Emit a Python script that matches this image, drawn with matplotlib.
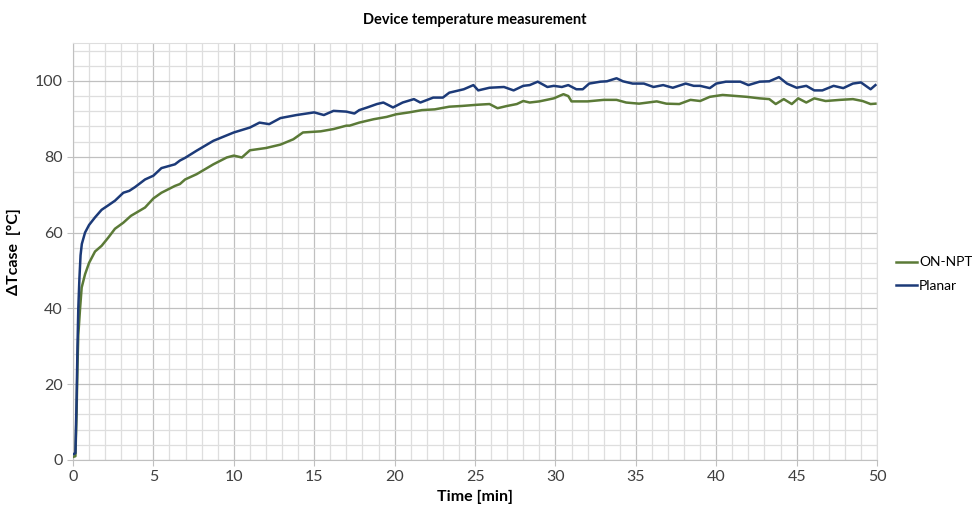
import matplotlib.pyplot as plt
from matplotlib.ticker import MultipleLocator

plt.rcParams['font.family'] = ['Lato', 'DejaVu Sans']

# === Data ===
planar_t = [0, 0.15, 0.22, 0.28, 0.33, 0.40, 0.47, 0.55, 0.75, 1.0, 1.37, 1.78,
            2.2, 2.61, 3.13, 3.5, 3.86, 4.48, 5.0, 5.5, 6.34, 6.65, 6.97,
            7.69, 8.73, 10.0, 11.0, 11.6, 12.2, 12.9, 13.9, 15.0, 15.6, 16.2,
            17.0, 17.5, 17.8, 18.3, 18.9, 19.3, 19.9, 20.5, 21.2, 21.6, 22.4,
            23.0, 23.4, 24.3, 24.9, 25.2, 25.9, 26.8, 27.4, 28.0, 28.4, 28.9,
            29.5, 29.9, 30.4, 30.8, 31.3, 31.7, 32.1, 32.8, 33.2, 33.8, 34.2,
            34.8, 35.5, 36.1, 36.7, 37.3, 38.1, 38.6, 39.0, 39.6, 40.0, 40.6,
            41.5, 42.0, 42.7, 43.3, 43.9, 44.4, 45.0, 45.6, 46.1, 46.6, 47.3,
            47.9, 48.5, 49.0, 49.6, 49.9]
planar_dt = [1.5, 1.8, 15, 30, 40, 48, 54, 57, 60, 62, 64, 66,
             67.2, 68.4, 70.5, 71.0, 72, 74, 75, 77, 78, 79, 79.7,
             81.6, 84.2, 86.4, 87.7, 89, 88.6, 90.2, 91, 91.7, 91, 92.1,
             91.9, 91.4, 92.3, 93, 93.9, 94.3, 93, 94.3, 95.2, 94.3, 95.6,
             95.6, 96.9, 97.8, 98.9, 97.5, 98.2, 98.4, 97.5, 98.7, 98.9, 99.8,
             98.4, 98.7, 98.4, 98.9, 97.8, 97.8, 99.3, 99.8, 99.9, 100.7, 99.9,
             99.3, 99.3, 98.4, 98.9, 98.2, 99.3, 98.7, 98.7, 98.1, 99.3, 99.8,
             99.8, 98.9, 99.8, 99.9, 101, 99.3, 98.2, 98.7, 97.5, 97.5, 98.7,
             98.1, 99.3, 99.6, 97.8, 98.9]

onnpt_t = [0, 0.15, 0.22, 0.28, 0.33, 0.44, 0.54, 0.75, 1.0, 1.37, 1.78, 2.2,
           2.61, 3.13, 3.6, 4.48, 5.0, 5.5, 6.34, 6.65, 6.97, 7.69, 8.73,
           9.56, 10.0, 10.5, 11.0, 12.0, 12.9, 13.7, 14.3, 15.4, 16.2, 17.0,
           17.2, 17.8, 18.7, 19.5, 20.1, 20.9, 21.7, 22.5, 23.4, 24.2, 25.1,
           25.9, 26.4, 27.0, 27.6, 28.0, 28.4, 29.0, 29.9, 30.5, 30.8, 31.0,
           32.0, 33.0, 33.8, 34.4, 35.2, 36.3, 36.9, 37.7, 38.4, 39.0, 39.6,
           40.4, 41.0, 41.9, 42.7, 43.3, 43.7, 44.2, 44.7, 45.1, 45.6, 46.1,
           46.8, 47.7, 48.5, 49.1, 49.6, 49.9]
onnpt_dt = [0.8, 1.0, 12, 25, 33, 40, 45.5, 49, 52, 55, 56.5, 58.7,
            61, 62.6, 64.4, 66.6, 69, 70.5, 72.3, 72.8, 74, 75.4, 78,
            79.8, 80.3, 79.8, 81.7, 82.3, 83.2, 84.6, 86.4, 86.7, 87.3, 88.2,
            88.2, 89, 89.9, 90.5, 91.2, 91.7, 92.3, 92.5, 93.2, 93.4, 93.7,
            93.9, 92.8, 93.4, 93.9, 94.7, 94.3, 94.6, 95.4, 96.5, 96.0, 94.6,
            94.6, 95.0, 95.0, 94.3, 94.0, 94.6, 94.0, 93.9, 95.0, 94.7, 95.8,
            96.3, 96.1, 95.8, 95.4, 95.2, 93.9, 95.2, 93.9, 95.4, 94.3, 95.4,
            94.7, 95.0, 95.2, 94.7, 93.9, 94.0]

GREEN = "#5b7a37"
BLUE = "#1c3a78"

# === Chart ===
fig = plt.figure(figsize=(9.72, 5.17), dpi=100)
ax = fig.add_axes([0.0751, 0.1103, 0.8272, 0.8065])

ax.plot(onnpt_t, onnpt_dt, color=GREEN, lw=1.8, label="ON-NPT", zorder=3)
ax.plot(planar_t, planar_dt, color=BLUE, lw=1.8, label="Planar", zorder=3)

ax.set_xlim(0, 50)
ax.set_ylim(0, 110)
ax.xaxis.set_major_locator(MultipleLocator(5))
ax.xaxis.set_minor_locator(MultipleLocator(1))
ax.yaxis.set_major_locator(MultipleLocator(20))
ax.yaxis.set_minor_locator(MultipleLocator(4))
ax.set_yticks([0, 20, 40, 60, 80, 100])

ax.grid(which="major", color="#c0c0c0", lw=0.9, zorder=0)
ax.grid(which="minor", color="#dedede", lw=0.9, zorder=0)
ax.set_axisbelow(True)

for side in ["top", "right"]:
    ax.spines[side].set_color("#dedede")
for side in ["left", "bottom"]:
    ax.spines[side].set_color("#c0c0c0")

ax.tick_params(which="major", length=4, color="#c0c0c0", labelsize=11.5,
               labelcolor="#404040")
ax.tick_params(which="minor", length=0)

ax.set_title("Device temperature measurement", fontsize=10.5, fontweight="bold",
             pad=14)
ax.set_xlabel("Time [min]", fontsize=11.5, fontweight="bold", labelpad=4)
ax.set_ylabel("ΔTcase  [°C]", fontsize=11.5, fontweight="bold", labelpad=10)

fig.legend(loc="center left", bbox_to_anchor=(0.922, 0.47), frameon=False,
           fontsize=10, handlelength=1.5, handletextpad=0.15, labelspacing=0.8,
           borderpad=0, borderaxespad=0)

fig.savefig("out.png", dpi=100)
